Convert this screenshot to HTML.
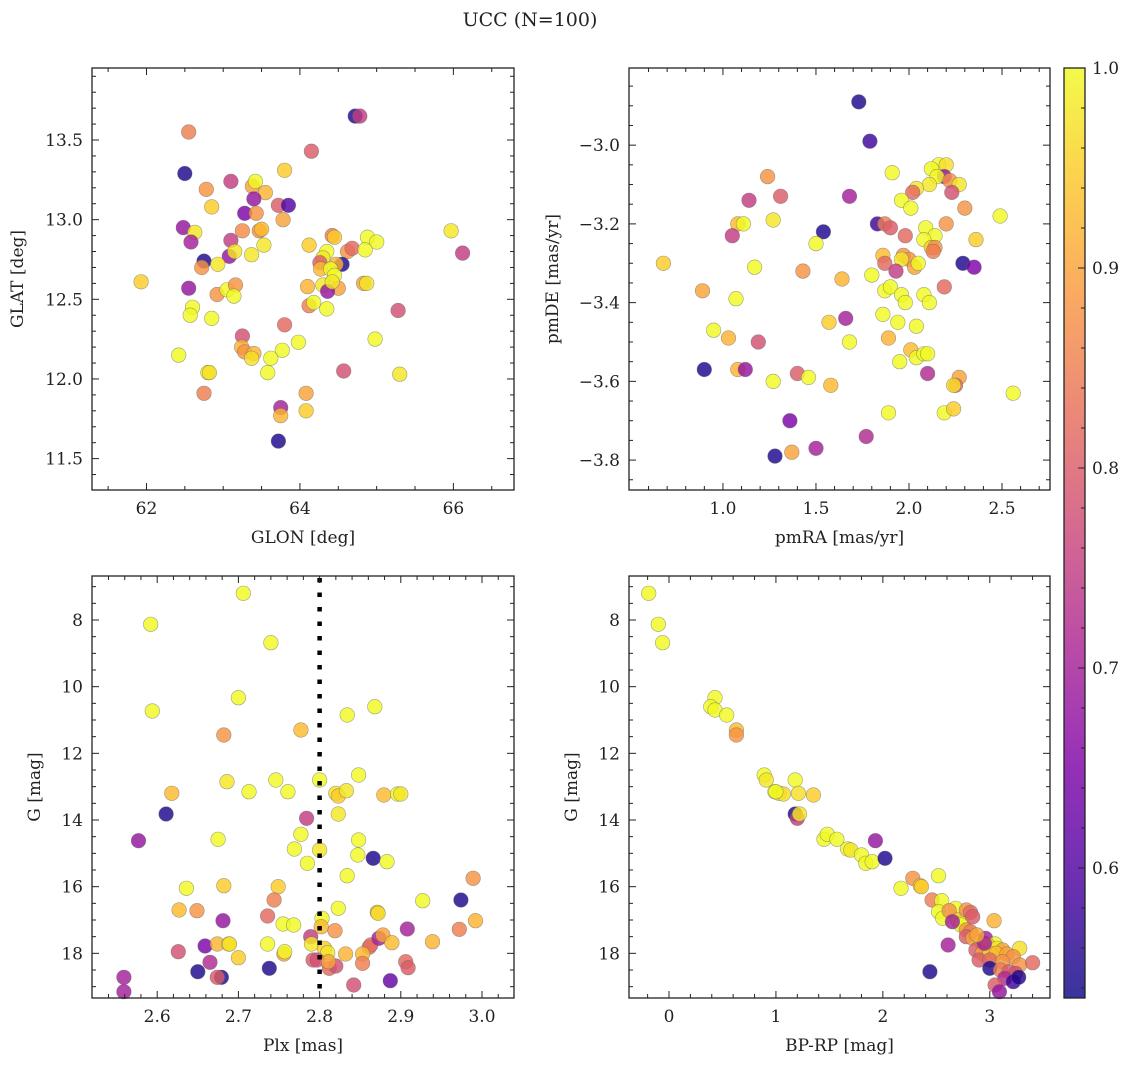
<!DOCTYPE html>
<html><head><meta charset="utf-8"><style>
html,body{margin:0;padding:0;background:#fff;}
svg text{font-family:"DejaVu Serif","Liberation Serif",serif;fill:#222;}
</style></head><body>
<svg id="fig" width="1136" height="1067" viewBox="0 0 1136 1067" xmlns="http://www.w3.org/2000/svg">
<rect width="1136" height="1067" fill="#fff"/>
<text x="530" y="26" font-size="19" text-anchor="middle">UCC (N=100)</text>
</svg>
<script>
// Panel 1: GLON / GLAT
const glon=[64.72,64.78,62.55,64.15,62.5,63.8,62.78,63.1,63.38,63.42,63.55,62.85,63.4,63.72,63.85,63.28,63.43,63.78,62.48,62.63,62.58,63.25,63.47,63.5,63.1,63.53,64.12,64.42,64.45,64.88,65.0,65.97,66.12,62.75,62.72,63.08,63.15,63.37,62.93,64.35,64.3,64.26,64.27,64.62,64.68,64.85,64.55,64.47,64.4,64.45,64.5,64.3,64.36,64.42,62.55,62.92,63.05,63.16,63.14,62.6,62.57,62.85,61.93,64.1,64.12,64.18,64.35,64.83,64.87,65.28,63.8,63.25,63.24,63.28,63.4,63.37,63.98,63.77,63.62,63.58,64.98,62.42,62.8,62.82,64.57,65.3,62.75,64.08,64.08,63.75,63.75,63.72];
const glat=[13.65,13.65,13.55,13.43,13.29,13.31,13.19,13.24,13.21,13.24,13.17,13.08,13.13,13.09,13.09,13.04,13.04,13.0,12.95,12.92,12.86,12.93,12.93,12.94,12.87,12.84,12.84,12.9,12.89,12.89,12.86,12.93,12.79,12.74,12.7,12.77,12.8,12.78,12.72,12.8,12.76,12.73,12.69,12.8,12.82,12.81,12.72,12.72,12.69,12.65,12.57,12.59,12.55,12.61,12.57,12.53,12.56,12.59,12.52,12.45,12.4,12.38,12.61,12.58,12.46,12.48,12.44,12.6,12.6,12.43,12.34,12.27,12.2,12.17,12.16,12.13,12.23,12.18,12.13,12.04,12.25,12.15,12.04,12.04,12.05,12.03,11.91,11.91,11.8,11.82,11.77,11.61];
const prob1=[0.55,0.75,0.85,0.8,0.55,0.95,0.88,0.75,0.9,1.0,0.92,0.95,0.68,0.8,0.6,0.65,0.88,0.9,0.68,0.98,0.7,0.87,0.88,0.93,0.75,0.98,0.95,0.85,0.95,1.0,1.0,0.98,0.75,0.55,0.88,0.68,0.98,0.98,0.98,1.0,0.98,0.8,0.93,0.88,0.82,1.0,0.55,0.92,1.0,1.0,0.9,0.98,0.68,0.98,0.68,0.88,1.0,0.88,1.0,1.0,1.0,1.0,0.95,0.92,0.85,1.0,1.0,0.9,0.98,0.78,0.82,0.78,0.92,0.88,0.92,0.97,1.0,1.0,1.0,1.0,1.0,1.0,1.0,0.97,0.78,0.98,0.85,0.9,0.95,0.7,0.92,0.55];
// Panel 2: pmRA / pmDE
const pmra=[1.73,1.79,2.16,2.2,1.91,2.12,2.19,2.15,2.11,2.22,2.27,2.04,2.02,2.23,1.24,1.14,1.31,1.68,1.96,2.01,2.3,2.49,1.27,1.08,1.11,1.54,1.83,1.87,1.9,2.09,2.14,2.2,1.05,1.5,1.98,2.08,2.36,2.12,2.14,2.13,1.86,1.97,2.0,1.96,2.03,2.05,1.87,1.93,2.29,2.35,0.68,1.17,1.43,1.64,1.8,2.19,0.89,1.07,1.87,1.9,1.96,1.98,2.08,2.11,1.66,1.57,1.86,1.94,2.04,0.95,1.03,1.19,1.68,1.89,2.01,2.04,2.08,2.1,1.95,0.9,1.08,1.12,1.4,1.46,2.1,2.27,1.27,1.58,2.25,2.24,2.56,1.89,2.19,2.24,1.36,1.77,1.5,1.28,1.37];
const pmde=[-2.89,-2.99,-3.05,-3.05,-3.07,-3.06,-3.08,-3.08,-3.1,-3.09,-3.1,-3.11,-3.12,-3.12,-3.08,-3.14,-3.13,-3.13,-3.14,-3.16,-3.16,-3.18,-3.19,-3.2,-3.2,-3.22,-3.2,-3.2,-3.21,-3.21,-3.23,-3.2,-3.23,-3.25,-3.23,-3.24,-3.24,-3.26,-3.26,-3.27,-3.28,-3.28,-3.29,-3.29,-3.31,-3.3,-3.3,-3.32,-3.3,-3.31,-3.3,-3.31,-3.32,-3.34,-3.33,-3.36,-3.37,-3.39,-3.37,-3.36,-3.38,-3.4,-3.38,-3.4,-3.44,-3.45,-3.43,-3.45,-3.46,-3.47,-3.49,-3.5,-3.5,-3.49,-3.52,-3.54,-3.53,-3.53,-3.55,-3.57,-3.57,-3.57,-3.58,-3.59,-3.58,-3.59,-3.6,-3.61,-3.61,-3.61,-3.63,-3.68,-3.68,-3.67,-3.7,-3.74,-3.77,-3.79,-3.78];
const prob2=[0.55,0.58,1.0,0.97,1.0,1.0,0.68,1.0,0.98,0.88,0.98,0.98,0.82,0.78,0.88,0.75,0.8,0.7,1.0,1.0,0.88,1.0,0.98,0.93,1.0,0.55,0.58,0.85,0.8,1.0,1.0,0.88,0.75,1.0,0.82,1.0,0.95,0.95,0.88,0.85,0.93,0.88,0.88,0.98,0.9,1.0,0.82,0.75,0.55,0.65,0.95,1.0,0.88,0.92,1.0,0.82,0.9,1.0,1.0,1.0,1.0,1.0,1.0,1.0,0.7,0.95,1.0,1.0,1.0,1.0,0.92,0.78,1.0,0.92,0.93,1.0,1.0,1.0,1.0,0.55,0.92,0.68,0.8,1.0,0.72,0.9,1.0,0.93,0.82,0.97,1.0,1.0,1.0,0.95,0.65,0.72,0.7,0.55,0.9];
// Panel 3: Plx / G
const plx=[2.706,2.592,2.74,2.7,2.594,2.868,2.834,2.682,2.777,2.848,2.686,2.746,2.8,2.618,2.713,2.761,2.82,2.823,2.833,2.879,2.896,2.9,2.611,2.784,2.823,2.577,2.675,2.777,2.769,2.8,2.848,2.847,2.866,2.883,2.785,2.834,2.636,2.682,2.749,2.989,2.744,2.927,2.974,2.627,2.649,2.823,2.871,2.872,2.681,2.736,2.755,2.768,2.803,2.802,2.819,2.908,2.972,2.992,2.626,2.659,2.674,2.688,2.689,2.736,2.789,2.79,2.806,2.81,2.861,2.863,2.873,2.878,2.889,2.939,2.7,2.756,2.757,2.792,2.797,2.812,2.82,2.811,2.832,2.853,2.853,2.906,2.909,2.665,2.65,2.679,2.674,2.738,2.559,2.559,2.842,2.887];
const gmag3=[7.2,8.13,8.68,10.33,10.73,10.6,10.85,11.45,11.3,12.65,12.85,12.8,12.8,13.2,13.15,13.15,13.2,13.28,13.12,13.25,13.22,13.22,13.82,13.95,13.82,14.62,14.58,14.43,14.87,14.9,14.6,15.05,15.15,15.25,15.3,15.67,16.05,15.97,16.0,15.75,16.4,16.42,16.4,16.7,16.72,16.65,16.77,16.8,17.02,16.88,17.12,17.15,16.95,17.2,17.32,17.27,17.28,17.02,17.95,17.78,17.72,17.72,17.72,17.72,17.5,17.72,17.85,17.98,17.82,17.75,17.55,17.45,17.68,17.65,18.13,18.02,17.95,18.2,18.2,18.45,18.38,18.25,18.02,18.02,18.3,18.25,18.43,18.27,18.55,18.72,18.72,18.45,18.72,19.15,18.95,18.82];
const prob3=[1.0,1.0,1.0,1.0,1.0,1.0,1.0,0.88,0.93,1.0,0.98,1.0,1.0,0.93,1.0,1.0,0.97,0.95,0.98,0.93,1.0,0.98,0.55,0.75,0.98,0.68,1.0,1.0,1.0,0.98,1.0,1.0,0.55,1.0,1.0,1.0,1.0,0.95,0.95,0.88,0.85,1.0,0.55,0.93,0.88,1.0,0.92,0.97,0.68,0.82,1.0,1.0,1.0,0.93,0.88,0.7,0.85,0.92,0.78,0.65,0.92,0.98,0.97,1.0,0.75,0.98,0.95,0.98,0.85,0.82,0.7,0.9,0.93,0.92,0.95,0.9,1.0,0.8,0.78,0.82,0.78,0.9,0.92,0.93,0.85,0.82,0.8,0.72,0.55,0.55,0.8,0.55,0.7,0.7,0.78,0.62];
// Panel 4: BP-RP / G
const bprp=[-0.19,-0.1,-0.06,0.43,0.39,0.43,0.54,0.63,0.63,0.89,0.91,1.18,0.99,1.03,1.07,1.21,1.35,1.0,1.18,1.2,1.22,1.93,1.45,1.48,1.57,1.67,1.7,1.8,1.84,1.9,2.02,2.17,2.28,2.35,2.36,2.52,2.46,2.55,2.44,2.61,2.52,2.56,2.68,2.62,2.7,2.74,2.78,2.82,2.84,2.73,2.65,2.78,2.82,2.78,3.04,2.84,2.92,2.96,2.94,3.05,2.98,3.07,3.12,3.28,2.87,2.93,3.0,3.06,3.16,3.22,2.9,3.0,3.12,3.28,3.4,3.0,3.1,3.18,3.24,3.14,3.22,3.27,3.05,3.09,2.95,2.88];
const gmag4=[7.2,8.13,8.68,10.33,10.6,10.7,10.85,11.3,11.45,12.65,12.8,12.8,13.15,13.2,13.22,13.2,13.25,13.15,13.82,13.95,13.82,14.62,14.58,14.43,14.58,14.87,14.9,15.05,15.3,15.25,15.15,16.05,15.75,15.97,16.0,15.67,16.4,16.42,18.55,17.75,16.75,16.95,16.65,16.72,17.0,17.1,16.7,16.77,16.9,17.15,17.05,17.3,17.35,17.5,17.02,17.55,17.65,17.55,17.75,17.72,17.75,17.85,17.9,17.85,17.9,18.0,18.0,18.0,18.02,18.1,18.2,18.2,18.25,18.35,18.28,18.45,18.5,18.55,18.6,18.75,18.85,18.72,18.95,19.15,17.7,17.45];
const prob4=[1.0,1.0,1.0,1.0,1.0,1.0,1.0,0.93,0.88,1.0,0.98,1.0,1.0,0.98,0.97,0.97,0.95,1.0,0.55,0.75,0.98,0.68,1.0,1.0,1.0,1.0,0.98,1.0,1.0,1.0,0.55,1.0,0.88,0.95,0.95,1.0,0.85,1.0,0.55,0.7,1.0,1.0,1.0,0.88,0.95,1.0,0.88,0.82,0.8,1.0,0.7,0.88,0.85,0.8,0.92,0.9,1.0,0.7,1.0,1.0,0.95,0.98,0.9,0.97,0.8,0.9,0.95,0.93,0.9,0.88,0.8,0.82,0.88,0.88,0.82,0.55,0.85,0.8,0.78,0.72,0.58,0.55,0.8,0.68,0.7,0.9];
const plxRef=[2.8];
const cbTicks=[0.6,0.7,0.8,0.9,1.0];

const NS='http://www.w3.org/2000/svg';
const svg=document.getElementById('fig');
const PMIN=0.535,PMAX=1.0;
const FS=17;
const stops=[[0,[13,8,135]],[0.125,[76,2,161]],[0.25,[126,3,168]],[0.375,[170,35,149]],[0.5,[204,71,120]],[0.625,[230,108,92]],[0.75,[248,149,64]],[0.875,[253,196,39]],[1,[240,249,33]]];
function plasma(t){t=Math.max(0,Math.min(1,t));for(let i=1;i<stops.length;i++){if(t<=stops[i][0]){const a=stops[i-1],b=stops[i];const f=(t-a[0])/(b[0]-a[0]);const c=a[1].map((v,k)=>Math.round(v+(b[1][k]-v)*f));return 'rgb('+c.join(',')+')';}}return 'rgb(240,249,33)';}
function mk(tag,attrs,parent){const e=document.createElementNS(NS,tag);for(const k in attrs)e.setAttribute(k,attrs[k]);(parent||svg).appendChild(e);return e;}

function panel(cfg,xs,ys,ps){
  const g=mk('g',{});
  
  
  const {L,R,T,B,x0,x1,y0,y1}=cfg;
  const sx=v=>L+(v-x0)/(x1-x0)*(R-L);
  const sy=v=>cfg.inv? T+(v-y0)/(y1-y0)*(B-T) : B-(v-y0)/(y1-y0)*(B-T);
  const pg=mk('g',{},g);
  
  
  for(let i=0;i<xs.length;i++){
    const c=mk('circle',{cx:sx(xs[i]).toFixed(1),cy:sy(ys[i]).toFixed(1),r:7.3,fill:plasma((ps[i]-PMIN)/(PMAX-PMIN)),'fill-opacity':0.82,stroke:'#666','stroke-opacity':0.6,'stroke-width':0.6},pg);
    
    
  }
  if(cfg.vline){
    const l=mk('line',{x1:sx(cfg.vline),x2:sx(cfg.vline),y1:T+2,y2:B,stroke:'#000','stroke-width':4.5,'stroke-dasharray':'4.5 10'},g);
    
    
  }
  const fr=mk('rect',{x:L,y:T,width:R-L,height:B-T,fill:'none',stroke:'#222','stroke-width':1.3},g);
  
  
  const tg=mk('g',{stroke:'#222','stroke-width':1},g);
  const eps=1e-9;
  for(let v=Math.ceil(x0/cfg.xmin)*cfg.xmin;v<=x1+eps;v+=cfg.xmin){
    const major=Math.abs(v/cfg.xmaj-Math.round(v/cfg.xmaj))<1e-6;const len=major?7:4;const X=sx(v);
    if(X<L+2||X>R-2)continue;
    mk('line',{x1:X,x2:X,y1:B,y2:B-len},tg);mk('line',{x1:X,x2:X,y1:T,y2:T+len},tg);
    if(major){const t=mk('text',{x:X,y:B+24,'font-size':FS,'text-anchor':'middle',stroke:'none'},g);t.textContent=cfg.xfmt(v);}
  }
  for(let v=Math.ceil(y0/cfg.ymin-eps)*cfg.ymin;v<=y1+eps;v+=cfg.ymin){
    const major=Math.abs(v/cfg.ymaj-Math.round(v/cfg.ymaj))<1e-6;const len=major?7:4;const Y=sy(v);
    if(Y<T+2||Y>B-2)continue;
    mk('line',{x1:L,x2:L+len,y1:Y,y2:Y},tg);mk('line',{x1:R,x2:R-len,y1:Y,y2:Y},tg);
    if(major){const t=mk('text',{x:L-9,y:Y+6,'font-size':FS,'text-anchor':'end',stroke:'none'},g);t.textContent=cfg.yfmt(v);}
  }
  const xl=mk('text',{x:(L+R)/2,y:B+53,'font-size':FS,'text-anchor':'middle'},g);xl.textContent=cfg.xlab;
  
  const yx=cfg.ylx,yy=(T+B)/2;
  const yl=mk('text',{x:yx,y:yy,'font-size':FS,'text-anchor':'middle',transform:`rotate(-90 ${yx} ${yy})`},g);yl.textContent=cfg.ylab;
  
}
const minus=s=>s.replace('-','\u2212');
panel({name:'glon-glat-panel',L:92,R:514,T:68,B:490,x0:61.29,x1:66.79,y0:11.303,y1:13.952,xmaj:2,xmin:0.5,ymaj:0.5,ymin:0.1,xfmt:v=>Math.round(v).toString(),yfmt:v=>v.toFixed(1),xlab:'GLON [deg]',ylab:'GLAT [deg]',ylx:23},glon,glat,prob1);
panel({name:'pm-panel',L:629,R:1050,T:68,B:490,x0:0.495,x1:2.758,y0:-3.876,y1:-2.804,xmaj:0.5,xmin:0.1,ymaj:0.2,ymin:0.05,xfmt:v=>v.toFixed(1),yfmt:v=>minus(v.toFixed(1)),xlab:'pmRA [mas/yr]',ylab:'pmDE [mas/yr]',ylx:558},pmra,pmde,prob2);
panel({name:'plx-g-panel',L:92,R:514,T:576,B:998,x0:2.5197,x1:3.0394,y0:6.68,y1:19.34,inv:true,vline:plxRef[0],xmaj:0.1,xmin:0.02,ymaj:2,ymin:0.5,xfmt:v=>v.toFixed(1),yfmt:v=>Math.round(v).toString(),xlab:'Plx [mas]',ylab:'G [mag]',ylx:40},plx,gmag3,prob3);
panel({name:'cmd-panel',L:629,R:1050,T:576,B:998,x0:-0.374,x1:3.563,y0:6.68,y1:19.34,inv:true,xmaj:1,xmin:0.2,ymaj:2,ymin:0.5,xfmt:v=>Math.round(v).toString(),yfmt:v=>Math.round(v).toString(),xlab:'BP-RP [mag]',ylab:'G [mag]',ylx:577},bprp,gmag4,prob4);

const cb=mk('g',{});


const CT=68,CB=998,CL=1064,CR=1085;
const grad=mk('linearGradient',{id:'cbg',x1:0,y1:1,x2:0,y2:0},mk('defs',{},cb));
for(let i=0;i<=20;i++){mk('stop',{offset:i/20,'stop-color':plasma(i/20)},grad);}
mk('rect',{x:CL,y:CT,width:CR-CL,height:CB-CT,fill:'url(#cbg)','fill-opacity':0.82},cb);
mk('rect',{x:CL,y:CT,width:CR-CL,height:CB-CT,fill:'none',stroke:'#222','stroke-width':1.3},cb);
const cy=v=>CB-(v-PMIN)/(PMAX-PMIN)*(CB-CT);
for(let v=0.54;v<=1.0001;v+=0.02){mk('line',{x1:CR,x2:CR-4,y1:cy(v),y2:cy(v),stroke:'#222'},cb);}
cbTicks.forEach(v=>{mk('line',{x1:CR,x2:CR-7,y1:cy(v),y2:cy(v),stroke:'#222'},cb);
  const t=mk('text',{x:CR+7,y:cy(v)+6,'font-size':FS},cb);t.textContent=v.toFixed(1);
  
  });
</script>
</body></html>
